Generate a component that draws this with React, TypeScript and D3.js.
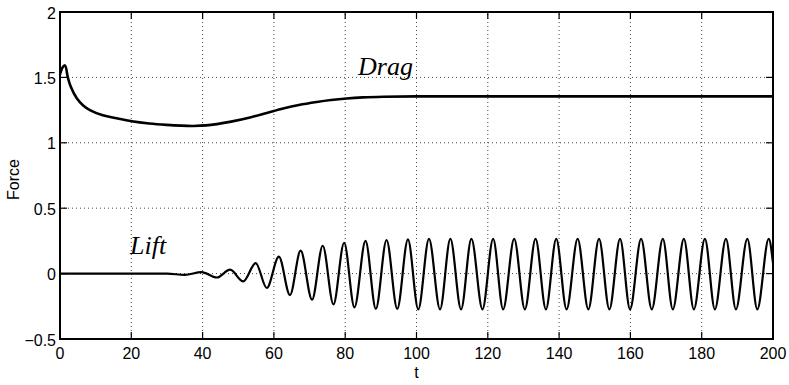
import React from "react";
import * as d3 from "d3";

// ---- data ----
const xTicks = [0, 20, 40, 60, 80, 100, 120, 140, 160, 180, 200];
const yTicks = [-0.5, 0, 0.5, 1, 1.5, 2];
const yTickLabels = ["−0.5", "0", "0.5", "1", "1.5", "2"];

// Drag coefficient history (t, value)
const dragT = [0, 0.7, 1.4, 2.2, 3, 4.7, 6.5, 8.4, 12, 15.9, 20.1, 25, 29.9, 34, 37.4, 41, 44, 48, 53.3, 58, 62.6, 67, 72, 76, 80.4, 85, 90.7, 100, 120, 150, 180, 200];
const dragV = [1.52, 1.575, 1.592, 1.5, 1.43, 1.34, 1.285, 1.25, 1.21, 1.187, 1.165, 1.148, 1.137, 1.131, 1.129, 1.133, 1.143, 1.162, 1.194, 1.228, 1.262, 1.289, 1.312, 1.327, 1.339, 1.347, 1.352, 1.355, 1.355, 1.355, 1.355, 1.355];

// Lift history: extrema (t, value) of the oscillation
const liftT = [0, 10, 20, 30, 35, 39.7, 44.0, 47.7, 51.4, 54.9, 58.0, 61.4, 64.5, 67.5, 70.7, 73.7, 76.7, 79.7, 82.6, 85.7, 88.6, 91.6, 94.6, 97.6, 100.5,
  103.5, 106.6, 109.5, 112.5, 115.4, 118.5, 121.5, 124.3, 127.4, 130.4, 133.4, 136.3, 139.2, 142.1, 145.2, 148.2, 151.2, 154.1, 157.1, 159.9, 163.0, 166.0, 169.1, 171.9, 175.0, 177.8, 180.9, 183.7, 186.8, 189.6, 192.8, 195.6, 198.8, 200];
const liftV = [0, 0, 0, 0, -0.01, 0.012, -0.03, 0.03, -0.06, 0.08, -0.11, 0.13, -0.164, 0.175, -0.2, 0.213, -0.235, 0.236, -0.258, 0.25, -0.27, 0.257, -0.27, 0.262, -0.273,
  0.265, -0.273, 0.265, -0.273, 0.265, -0.273, 0.265, -0.273, 0.265, -0.273, 0.265, -0.273, 0.265, -0.273, 0.265, -0.273, 0.265, -0.273, 0.265, -0.273, 0.265, -0.273, 0.265, -0.273, 0.265, -0.273, 0.265, -0.273, 0.265, -0.273, 0.265, -0.273, 0.265, 0.08];

const W = 789;
const H = 385;
const M = { left: 60, right: 16, top: 12, bottom: 46 };

export default function App() {
  const x = d3.scaleLinear().domain([0, 200]).range([M.left, W - M.right]);
  const y = d3.scaleLinear().domain([-0.5, 2]).range([H - M.bottom, M.top]);

  const dragLine = d3
    .line<[number, number]>()
    .x((d) => x(d[0]))
    .y((d) => y(d[1]))
    .curve(d3.curveCatmullRom.alpha(0.5));

  const liftLine = d3
    .line<[number, number]>()
    .x((d) => x(d[0]))
    .y((d) => y(d[1]))
    .curve(d3.curveMonotoneX);

  const dragPath = dragLine(dragT.map((t, i) => [t, dragV[i]] as [number, number])) || "";
  const liftPath = liftLine(liftT.map((t, i) => [t, liftV[i]] as [number, number])) || "";

  const x0 = M.left;
  const x1 = W - M.right;
  const y0 = H - M.bottom;
  const y1 = M.top;
  const tickLen = 7;
  const sans = "'Liberation Sans', Arial, Helvetica, sans-serif";
  const serif = "'Liberation Serif', 'Times New Roman', serif";

  return (
    <div style={{ position: "fixed", left: 0, top: 0 }}>
      <svg width={W} height={H} style={{ display: "block", background: "#fff" }}>
        {/* grid */}
        <g stroke="#444" strokeWidth={1} strokeDasharray="1 3">
          {xTicks.slice(1, -1).map((t) => (
            <line key={"gx" + t} x1={x(t)} x2={x(t)} y1={y0} y2={y1} />
          ))}
          {yTicks.slice(1, -1).map((t) => (
            <line key={"gy" + t} x1={x0} x2={x1} y1={y(t)} y2={y(t)} />
          ))}
        </g>
        {/* ticks */}
        <g stroke="#000" strokeWidth={1.2}>
          {xTicks.map((t) => (
            <g key={"tx" + t}>
              <line x1={x(t)} x2={x(t)} y1={y0} y2={y0 - tickLen} />
              <line x1={x(t)} x2={x(t)} y1={y1} y2={y1 + tickLen} />
            </g>
          ))}
          {yTicks.map((t) => (
            <g key={"ty" + t}>
              <line x1={x0} x2={x0 + tickLen} y1={y(t)} y2={y(t)} />
              <line x1={x1} x2={x1 - tickLen} y1={y(t)} y2={y(t)} />
            </g>
          ))}
        </g>
        {/* curves */}
        <path d={dragPath} fill="none" stroke="#000" strokeWidth={2.6} strokeLinejoin="round" />
        <path d={liftPath} fill="none" stroke="#000" strokeWidth={2.2} strokeLinejoin="round" />
        {/* frame */}
        <rect x={x0} y={y1} width={x1 - x0} height={y0 - y1} fill="none" stroke="#000" strokeWidth={2} />
        {/* tick labels */}
        <g fontFamily={sans} fontSize={16} fill="#000">
          {xTicks.map((t) => (
            <text key={"lx" + t} x={x(t)} y={y0 + 20} textAnchor="middle">
              {String(t)}
            </text>
          ))}
          {yTicks.map((t, i) => (
            <text key={"ly" + t} x={x0 - 4} y={y(t) + 6.5} textAnchor="end">
              {yTickLabels[i]}
            </text>
          ))}
        </g>
        {/* axis labels */}
        <text x={(x0 + x1) / 2} y={378} textAnchor="middle" fontFamily={sans} fontSize={16}>
          t
        </text>
        <text
          transform={`translate(19,${(y0 + y1) / 2 + 4}) rotate(-90)`}
          textAnchor="middle"
          fontFamily={sans}
          fontSize={16}
        >
          Force
        </text>
        {/* curve annotations */}
        <text x={358} y={75} fontFamily={serif} fontStyle="italic" fontSize={26}>
          Drag
        </text>
        <text x={130} y={254} fontFamily={serif} fontStyle="italic" fontSize={26}>
          Lift
        </text>
      </svg>
    </div>
  );
}
